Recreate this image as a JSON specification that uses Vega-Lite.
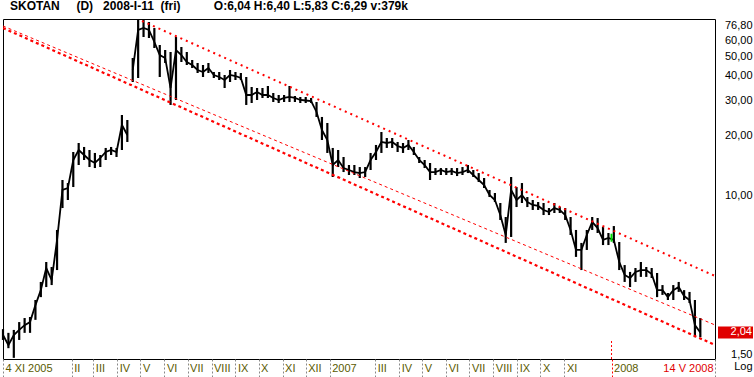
{
  "$schema": "https://vega.github.io/schema/vega-lite/v6.json",
  "width": 712,
  "height": 340,
  "autosize": {"type": "none"},
  "padding": {"left": 3, "top": 19, "right": 39, "bottom": 18},
  "background": "white",
  "config": {"view": {"stroke": "black", "strokeWidth": 1}, "font": "Liberation Sans"},
  "title": {
    "text": "SKOTAN\u00a0\u00a0\u00a0\u00a0\u00a0(D)\u00a0\u00a0\u00a02008-I-11\u00a0\u00a0(fri)\u00a0\u00a0\u00a0\u00a0\u00a0\u00a0\u00a0\u00a0\u00a0\u00a0O:6,04 H:6,40 L:5,83 C:6,29 v:379k",
    "anchor": "start", "frame": "group", "dx": 7, "offset": -3,
    "fontSize": 12, "fontWeight": "bold", "font": "Liberation Sans", "color": "black", "baseline": "alphabetic"
  },
  "datasets": {
    "price": [
      {"d":"2005-11-04","hi":2.12,"lo":1.87,"c":1.98,"s":1},
      {"d":"2005-11-11","hi":2.03,"lo":1.70,"c":1.76,"s":1},
      {"d":"2005-11-18","hi":2.10,"lo":1.52,"c":1.98,"s":1},
      {"d":"2005-11-25","hi":2.30,"lo":1.87,"c":2.10,"s":1},
      {"d":"2005-12-02","hi":2.41,"lo":2.03,"c":2.22,"s":1},
      {"d":"2005-12-09","hi":2.44,"lo":2.03,"c":2.30,"s":1},
      {"d":"2005-12-16","hi":2.97,"lo":2.36,"c":2.80,"s":1},
      {"d":"2005-12-23","hi":3.66,"lo":3.07,"c":3.33,"s":1},
      {"d":"2005-12-30","hi":4.61,"lo":3.45,"c":4.30,"s":1},
      {"d":"2006-01-06","hi":4.35,"lo":3.53,"c":3.74,"s":1},
      {"d":"2006-01-13","hi":6.68,"lo":4.20,"c":5.95,"s":1},
      {"d":"2006-01-20","hi":11.91,"lo":8.61,"c":10.61,"s":1},
      {"d":"2006-01-27","hi":11.50,"lo":9.45,"c":10.86,"s":1},
      {"d":"2006-02-03","hi":16.47,"lo":10.98,"c":15.01,"s":1},
      {"d":"2006-02-10","hi":18.28,"lo":14.17,"c":16.86,"s":1},
      {"d":"2006-02-17","hi":17.46,"lo":15.01,"c":15.91,"s":1},
      {"d":"2006-02-24","hi":16.86,"lo":13.84,"c":15.01,"s":1},
      {"d":"2006-03-03","hi":16.29,"lo":13.68,"c":14.50,"s":1},
      {"d":"2006-03-10","hi":15.91,"lo":13.84,"c":15.37,"s":1},
      {"d":"2006-03-17","hi":17.26,"lo":15.01,"c":16.47,"s":1},
      {"d":"2006-03-24","hi":17.46,"lo":15.91,"c":16.86,"s":1},
      {"d":"2006-03-31","hi":17.26,"lo":15.55,"c":16.47,"s":1},
      {"d":"2006-04-07","hi":25.28,"lo":16.86,"c":22.52,"s":1},
      {"d":"2006-04-14","hi":23.86,"lo":18.50,"c":20.06,"s":1},
      {"d":"2006-04-21","hi":48.91,"lo":37.04,"c":42.56,"s":2},
      {"d":"2006-04-28","hi":75.9,"lo":38.80,"c":67.62,"s":2},
      {"d":"2006-05-05","hi":75.9,"lo":62.36,"c":69.19,"s":2},
      {"d":"2006-05-12","hi":74.16,"lo":61.64,"c":67.62,"s":2},
      {"d":"2006-05-19","hi":69.19,"lo":54.91,"c":58.85,"s":2},
      {"d":"2006-05-26","hi":56.85,"lo":39.25,"c":50.63,"s":2},
      {"d":"2006-06-02","hi":53.65,"lo":46.16,"c":48.91,"s":2},
      {"d":"2006-06-09","hi":52.42,"lo":28.39,"c":34.56,"s":2},
      {"d":"2006-06-16","hi":62.36,"lo":30.08,"c":53.65,"s":2},
      {"d":"2006-06-23","hi":55.54,"lo":46.70,"c":50.63,"s":2},
      {"d":"2006-06-30","hi":52.42,"lo":45.10,"c":46.70,"s":2},
      {"d":"2006-07-07","hi":47.79,"lo":43.57,"c":45.10,"s":2},
      {"d":"2006-07-14","hi":46.16,"lo":41.11,"c":42.56,"s":2},
      {"d":"2006-07-21","hi":45.10,"lo":39.25,"c":41.59,"s":2},
      {"d":"2006-07-28","hi":46.16,"lo":41.11,"c":43.57,"s":2},
      {"d":"2006-08-04","hi":41.59,"lo":38.80,"c":40.17,"s":2},
      {"d":"2006-08-11","hi":41.59,"lo":37.91,"c":39.25,"s":2},
      {"d":"2006-08-18","hi":40.17,"lo":34.56,"c":37.91,"s":2},
      {"d":"2006-08-25","hi":42.56,"lo":37.04,"c":40.17,"s":2},
      {"d":"2006-09-01","hi":41.59,"lo":37.91,"c":39.70,"s":2},
      {"d":"2006-09-08","hi":41.11,"lo":37.91,"c":38.80,"s":2},
      {"d":"2006-09-15","hi":39.25,"lo":28.39,"c":31.87,"s":2},
      {"d":"2006-09-22","hi":34.96,"lo":29.05,"c":31.87,"s":2},
      {"d":"2006-09-29","hi":34.56,"lo":30.08,"c":33.00,"s":2},
      {"d":"2006-10-06","hi":34.56,"lo":30.78,"c":31.87,"s":2},
      {"d":"2006-10-13","hi":35.37,"lo":30.78,"c":31.87,"s":2},
      {"d":"2006-10-20","hi":32.62,"lo":29.39,"c":30.78,"s":2},
      {"d":"2006-10-27","hi":31.87,"lo":29.05,"c":30.08,"s":2},
      {"d":"2006-11-03","hi":31.87,"lo":29.39,"c":30.78,"s":2},
      {"d":"2006-11-10","hi":35.37,"lo":29.39,"c":31.14,"s":2},
      {"d":"2006-11-17","hi":31.50,"lo":29.39,"c":30.78,"s":2},
      {"d":"2006-11-24","hi":31.14,"lo":29.05,"c":30.08,"s":2},
      {"d":"2006-12-01","hi":31.14,"lo":29.05,"c":29.90,"s":2},
      {"d":"2006-12-08","hi":30.78,"lo":29.05,"c":29.73,"s":2},
      {"d":"2006-12-15","hi":29.39,"lo":24.71,"c":26.18,"s":2},
      {"d":"2006-12-22","hi":24.71,"lo":18.93,"c":21.25,"s":2},
      {"d":"2006-12-29","hi":23.05,"lo":16.29,"c":18.93,"s":2},
      {"d":"2007-01-05","hi":17.26,"lo":12.33,"c":14.17,"s":2},
      {"d":"2007-01-12","hi":16.86,"lo":13.84,"c":15.01,"s":2},
      {"d":"2007-01-19","hi":15.55,"lo":13.06,"c":13.68,"s":2},
      {"d":"2007-01-26","hi":14.17,"lo":12.62,"c":13.37,"s":2},
      {"d":"2007-02-02","hi":14.17,"lo":12.62,"c":13.06,"s":2},
      {"d":"2007-02-09","hi":13.84,"lo":12.19,"c":12.91,"s":2},
      {"d":"2007-02-16","hi":13.84,"lo":12.33,"c":13.06,"s":2},
      {"d":"2007-02-23","hi":16.29,"lo":13.37,"c":15.01,"s":2},
      {"d":"2007-03-02","hi":17.87,"lo":15.01,"c":16.47,"s":2},
      {"d":"2007-03-09","hi":20.76,"lo":16.29,"c":18.50,"s":2},
      {"d":"2007-03-16","hi":19.37,"lo":17.26,"c":18.28,"s":2},
      {"d":"2007-03-23","hi":19.37,"lo":17.26,"c":18.50,"s":2},
      {"d":"2007-03-30","hi":18.50,"lo":16.47,"c":17.66,"s":2},
      {"d":"2007-04-06","hi":18.28,"lo":16.29,"c":17.26,"s":2},
      {"d":"2007-04-13","hi":18.93,"lo":16.86,"c":17.87,"s":2},
      {"d":"2007-04-20","hi":17.46,"lo":15.91,"c":16.47,"s":2},
      {"d":"2007-04-27","hi":15.55,"lo":14.50,"c":15.01,"s":2},
      {"d":"2007-05-04","hi":15.01,"lo":13.68,"c":14.17,"s":2},
      {"d":"2007-05-11","hi":14.50,"lo":11.91,"c":13.06,"s":2},
      {"d":"2007-05-18","hi":13.68,"lo":12.62,"c":13.06,"s":2},
      {"d":"2007-05-25","hi":13.68,"lo":12.62,"c":13.37,"s":2},
      {"d":"2007-06-01","hi":13.68,"lo":12.62,"c":13.06,"s":2},
      {"d":"2007-06-08","hi":13.68,"lo":12.62,"c":13.22,"s":2},
      {"d":"2007-06-15","hi":13.68,"lo":12.47,"c":12.91,"s":2},
      {"d":"2007-06-22","hi":13.84,"lo":12.62,"c":13.06,"s":2},
      {"d":"2007-06-29","hi":14.17,"lo":12.91,"c":13.37,"s":2},
      {"d":"2007-07-06","hi":13.37,"lo":12.33,"c":12.62,"s":2},
      {"d":"2007-07-13","hi":12.91,"lo":11.64,"c":11.91,"s":2},
      {"d":"2007-07-20","hi":12.19,"lo":10.86,"c":11.24,"s":2},
      {"d":"2007-07-27","hi":10.61,"lo":9.78,"c":10.01,"s":2},
      {"d":"2007-08-03","hi":10.25,"lo":9.23,"c":9.45,"s":2},
      {"d":"2007-08-10","hi":9.13,"lo":7.50,"c":7.94,"s":2},
      {"d":"2007-08-17","hi":7.76,"lo":5.75,"c":6.30,"s":2},
      {"d":"2007-08-24","hi":12.33,"lo":6.16,"c":10.61,"s":2},
      {"d":"2007-08-31","hi":10.98,"lo":8.71,"c":9.45,"s":2},
      {"d":"2007-09-07","hi":11.50,"lo":9.13,"c":10.01,"s":2},
      {"d":"2007-09-14","hi":9.78,"lo":8.71,"c":9.23,"s":2},
      {"d":"2007-09-21","hi":9.45,"lo":8.42,"c":8.92,"s":2},
      {"d":"2007-09-28","hi":9.23,"lo":8.42,"c":8.82,"s":2},
      {"d":"2007-10-05","hi":9.13,"lo":7.94,"c":8.42,"s":2},
      {"d":"2007-10-12","hi":8.61,"lo":7.94,"c":8.22,"s":2},
      {"d":"2007-10-19","hi":9.13,"lo":8.13,"c":8.61,"s":2},
      {"d":"2007-10-26","hi":8.71,"lo":8.13,"c":8.42,"s":2},
      {"d":"2007-11-02","hi":8.61,"lo":7.50,"c":7.94,"s":2},
      {"d":"2007-11-09","hi":7.76,"lo":6.30,"c":6.68,"s":2},
      {"d":"2007-11-16","hi":6.68,"lo":4.89,"c":5.30,"s":2},
      {"d":"2007-11-23","hi":5.75,"lo":4.20,"c":5.30,"s":2},
      {"d":"2007-11-30","hi":6.68,"lo":5.30,"c":6.30,"s":2},
      {"d":"2007-12-07","hi":7.76,"lo":6.68,"c":7.33,"s":2},
      {"d":"2007-12-14","hi":7.67,"lo":6.45,"c":6.83,"s":2},
      {"d":"2007-12-21","hi":6.91,"lo":5.61,"c":5.95,"s":2},
      {"d":"2007-12-28","hi":6.45,"lo":5.61,"c":6.09,"s":2},
      {"d":"2008-01-04","hi":6.99,"lo":5.75,"c":5.95,"s":2},
      {"d":"2008-01-11","hi":5.81,"lo":4.20,"c":4.61,"s":2},
      {"d":"2008-01-18","hi":4.45,"lo":3.66,"c":3.97,"s":2},
      {"d":"2008-01-25","hi":4.11,"lo":3.45,"c":3.83,"s":2},
      {"d":"2008-02-01","hi":4.30,"lo":3.66,"c":4.11,"s":2},
      {"d":"2008-02-08","hi":4.61,"lo":3.88,"c":4.20,"s":2},
      {"d":"2008-02-15","hi":4.35,"lo":3.88,"c":4.20,"s":2},
      {"d":"2008-02-22","hi":4.30,"lo":3.83,"c":4.01,"s":2},
      {"d":"2008-02-29","hi":4.06,"lo":3.07,"c":3.33,"s":2},
      {"d":"2008-03-07","hi":3.53,"lo":3.15,"c":3.33,"s":2},
      {"d":"2008-03-14","hi":3.22,"lo":2.97,"c":3.07,"s":2},
      {"d":"2008-03-21","hi":3.53,"lo":2.97,"c":3.33,"s":2},
      {"d":"2008-03-28","hi":3.66,"lo":3.26,"c":3.45,"s":2},
      {"d":"2008-04-04","hi":3.33,"lo":2.97,"c":3.11,"s":2},
      {"d":"2008-04-11","hi":3.26,"lo":2.87,"c":2.97,"s":2},
      {"d":"2008-04-18","hi":2.97,"lo":1.93,"c":2.22,"s":2},
      {"d":"2008-04-25","hi":2.41,"lo":1.93,"c":2.04,"s":2}
    ],
    "trend": [
      {"d":"2005-11-04","v":69.19,"id":"thick"},
      {"d":"2008-05-14","v":1.764,"id":"thick"},
      {"d":"2005-11-04","v":70.81,"id":"thin"},
      {"d":"2008-05-14","v":2.224,"id":"thin"},
      {"d":"2006-05-03","v":75.03,"id":"upper"},
      {"d":"2008-05-14","v":3.921,"id":"upper"}
    ],
    "sel": [{"d":"2008-01-01","lo":5.83,"hi":6.40}],
    "yearmark": [{"d":"2008-01-01","lo":1.5,"hi":1.87}],
    "last": [{"d":"2008-05-14","v":2.04,"t":"2,04"}]
  },
  "layer": [
    {
      "data": {"name": "price"},
      "mark": {"type": "rule", "color": "black", "strokeWidth": 2.2},
      "encoding": {
        "x": {
          "field": "d", "type": "temporal",
          "scale": {"domain": [{"year":2005,"month":11,"date":4,"utc":true},{"year":2008,"month":5,"date":14,"utc":true}]},
          "axis": {
            "title": null, "grid": false, "domain": false, "tickCount": 200,
            "values": [
              {"year":2005,"month":11,"date":4,"utc":true},
              {"year":2006,"month":2,"date":1,"utc":true},
              {"year":2006,"month":3,"date":1,"utc":true},
              {"year":2006,"month":4,"date":1,"utc":true},
              {"year":2006,"month":5,"date":1,"utc":true},
              {"year":2006,"month":6,"date":1,"utc":true},
              {"year":2006,"month":7,"date":1,"utc":true},
              {"year":2006,"month":8,"date":1,"utc":true},
              {"year":2006,"month":9,"date":1,"utc":true},
              {"year":2006,"month":10,"date":1,"utc":true},
              {"year":2006,"month":11,"date":1,"utc":true},
              {"year":2006,"month":12,"date":1,"utc":true},
              {"year":2007,"month":1,"date":1,"utc":true},
              {"year":2007,"month":3,"date":1,"utc":true},
              {"year":2007,"month":4,"date":1,"utc":true},
              {"year":2007,"month":5,"date":1,"utc":true},
              {"year":2007,"month":6,"date":1,"utc":true},
              {"year":2007,"month":7,"date":1,"utc":true},
              {"year":2007,"month":8,"date":1,"utc":true},
              {"year":2007,"month":9,"date":1,"utc":true},
              {"year":2007,"month":10,"date":1,"utc":true},
              {"year":2007,"month":11,"date":1,"utc":true},
              {"year":2008,"month":1,"date":1,"utc":true},
              {"year":2008,"month":5,"date":14,"utc":true}
            ],
            "labelExpr": "utcyear(datum.value)==2005 ? '4 XI 2005' : (utcyear(datum.value)==2008 && utcmonth(datum.value)==4 ? '14 V 2008' : (utcmonth(datum.value)==0 ? '' + utcyear(datum.value) : ['I','II','III','IV','V','VI','VII','VIII','IX','X','XI','XII'][utcmonth(datum.value)]))",
            "labelColor": {"condition": {"test": "utcyear(datum.value)==2008 && utcmonth(datum.value)==4", "value": "#e00000"}, "value": "#5a5a00"},
            "tickColor": {"condition": {"test": "utcyear(datum.value)==2008 && utcmonth(datum.value)==0", "value": "#ff0000"}, "value": "#888888"},
            "labelAlign": {"condition": {"test": "utcyear(datum.value)==2008 && utcmonth(datum.value)==4", "value": "right"}, "value": "left"},
            "labelOffset": {"condition": {"test": "utcyear(datum.value)==2008 && utcmonth(datum.value)==4", "value": -2}, "value": 2},
            "tickSize": 18, "tickDash": [2, 2], "tickWidth": 1,
            "labelFlush": false, "labelBaseline": "top", "labelPadding": -15,
            "labelFontSize": 11, "labelFont": "Liberation Sans",
            "labelOverlap": false, "labelBound": false
          }
        },
        "y": {
          "field": "lo", "type": "quantitative",
          "scale": {"type": "log", "domain": [1.5, 76.8], "nice": false, "zero": false},
          "axis": {
            "orient": "right", "values": [1.5, 10, 20, 30, 40, 50, 60, 76.8], "tickCount": 50,
            "labelExpr": "replace(format(datum.value, '.2f'), '.', ',')",
            "ticks": false, "domain": false, "grid": false,
            "labelAlign": "right", "labelPadding": 37, "labelFlush": true, "labelOverlap": false,
            "labelFontSize": 11, "labelFont": "Liberation Sans", "labelColor": "black",
            "title": "Log", "titleAngle": 0, "titleAlign": "right", "titleBaseline": "middle",
            "titleX": 37, "titleY": 347, "titleFontWeight": "normal", "titleFontSize": 11, "titleFont": "Liberation Sans", "titleColor": "black"
          }
        },
        "y2": {"field": "hi"}
      }
    },
    {
      "data": {"name": "price"},
      "mark": {"type": "line", "color": "black", "strokeWidth": 1.8},
      "encoding": {
        "x": {"field": "d", "type": "temporal"},
        "y": {"field": "c", "type": "quantitative"},
        "detail": {"field": "s"}
      }
    },
    {
      "data": {"name": "trend"},
      "transform": [{"filter": "datum.id == 'thick'"}],
      "mark": {"type": "line", "color": "#ff0000", "strokeWidth": 2.2, "strokeDash": [3, 3], "clip": true},
      "encoding": {"x": {"field": "d", "type": "temporal"}, "y": {"field": "v", "type": "quantitative"}}
    },
    {
      "data": {"name": "trend"},
      "transform": [{"filter": "datum.id == 'thin'"}],
      "mark": {"type": "line", "color": "#ff0000", "strokeWidth": 1, "strokeDash": [3, 3], "clip": true},
      "encoding": {"x": {"field": "d", "type": "temporal"}, "y": {"field": "v", "type": "quantitative"}}
    },
    {
      "data": {"name": "trend"},
      "transform": [{"filter": "datum.id == 'upper'"}],
      "mark": {"type": "line", "color": "#ff0000", "strokeWidth": 2, "strokeDash": [2, 4], "clip": true},
      "encoding": {"x": {"field": "d", "type": "temporal"}, "y": {"field": "v", "type": "quantitative"}}
    },
    {
      "data": {"name": "sel"},
      "mark": {"type": "rule", "color": "#00dd00", "strokeWidth": 2},
      "encoding": {"x": {"field": "d", "type": "temporal"}, "y": {"field": "lo", "type": "quantitative"}, "y2": {"field": "hi"}}
    },
    {
      "data": {"name": "yearmark"},
      "mark": {"type": "rule", "color": "#ff0000", "strokeWidth": 1, "strokeDash": [2, 2]},
      "encoding": {"x": {"field": "d", "type": "temporal"}, "y": {"field": "lo", "type": "quantitative"}, "y2": {"field": "hi"}}
    },
    {
      "data": {"name": "last"},
      "mark": {"type": "point", "shape": "M0.3,-0.6H3.8V0.6H0.3Z", "filled": true, "color": "#e00000", "size": 400, "opacity": 1, "strokeWidth": 0},
      "encoding": {"x": {"field": "d", "type": "temporal"}, "y": {"field": "v", "type": "quantitative"}}
    },
    {
      "data": {"name": "last"},
      "mark": {"type": "text", "align": "right", "dx": 37, "color": "white", "fontSize": 11, "font": "Liberation Sans", "baseline": "middle"},
      "encoding": {"x": {"field": "d", "type": "temporal"}, "y": {"field": "v", "type": "quantitative"}, "text": {"field": "t"}}
    }
  ]
}
